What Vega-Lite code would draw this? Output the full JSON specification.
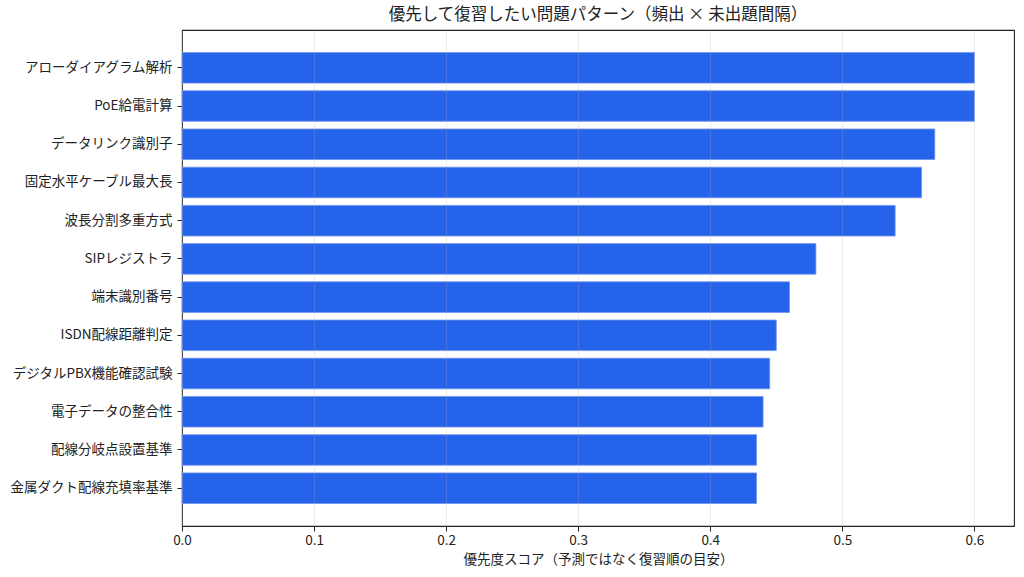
{
  "$schema": "https://vega.github.io/schema/vega-lite/v6.json",
  "width": 832,
  "height": 496,
  "autosize": {"type": "none"},
  "padding": {"left": 182, "top": 30, "right": 10, "bottom": 51},
  "background": "white",
  "config": {
    "font": "Noto Sans CJK JP",
    "view": {"stroke": "#222222", "strokeWidth": 1.1},
    "axis": {
      "labelFont": "Noto Sans CJK JP",
      "titleFont": "Noto Sans CJK JP",
      "labelFontSize": 13.5,
      "titleFontSize": 13.5,
      "labelColor": "#222222",
      "titleColor": "#222222",
      "titleFontWeight": "normal",
      "tickColor": "#222222",
      "tickSize": 5,
      "domain": false
    }
  },
  "title": {
    "text": "優先して復習したい問題パターン（頻出 × 未出題間隔）",
    "fontSize": 16.5,
    "fontWeight": "normal",
    "color": "#222222",
    "font": "Noto Sans CJK JP",
    "anchor": "middle",
    "offset": 7
  },
  "data": {
    "values": [
      {"pattern": "アローダイアグラム解析", "score": 0.6},
      {"pattern": "PoE給電計算", "score": 0.6},
      {"pattern": "データリンク識別子", "score": 0.57},
      {"pattern": "固定水平ケーブル最大長", "score": 0.56},
      {"pattern": "波長分割多重方式", "score": 0.54},
      {"pattern": "SIPレジストラ", "score": 0.48},
      {"pattern": "端末識別番号", "score": 0.46},
      {"pattern": "ISDN配線距離判定", "score": 0.45},
      {"pattern": "デジタルPBX機能確認試験", "score": 0.445},
      {"pattern": "電子データの整合性", "score": 0.44},
      {"pattern": "配線分岐点設置基準", "score": 0.435},
      {"pattern": "金属ダクト配線充填率基準", "score": 0.435}
    ]
  },
  "mark": {"type": "bar", "color": "#2563EB", "stroke": "#6f93f0", "strokeWidth": 0.8},
  "encoding": {
    "y": {
      "field": "pattern",
      "type": "nominal",
      "sort": null,
      "title": null,
      "scale": {"paddingInner": 0.2, "paddingOuter": 0.59},
      "axis": {"labelPadding": 5, "grid": false}
    },
    "x": {
      "field": "score",
      "type": "quantitative",
      "title": "優先度スコア（予測ではなく復習順の目安）",
      "scale": {"domain": [0, 0.63], "nice": false, "zero": true},
      "axis": {
        "values": [0, 0.1, 0.2, 0.3, 0.4, 0.5, 0.6],
        "format": ".1f",
        "labelFlush": false,
        "labelPadding": 2,
        "titlePadding": 6,
        "grid": true,
        "gridColor": "#b0b0b0",
        "gridOpacity": 0.3,
        "gridWidth": 0.8,
        "zindex": 1
      }
    }
  }
}
